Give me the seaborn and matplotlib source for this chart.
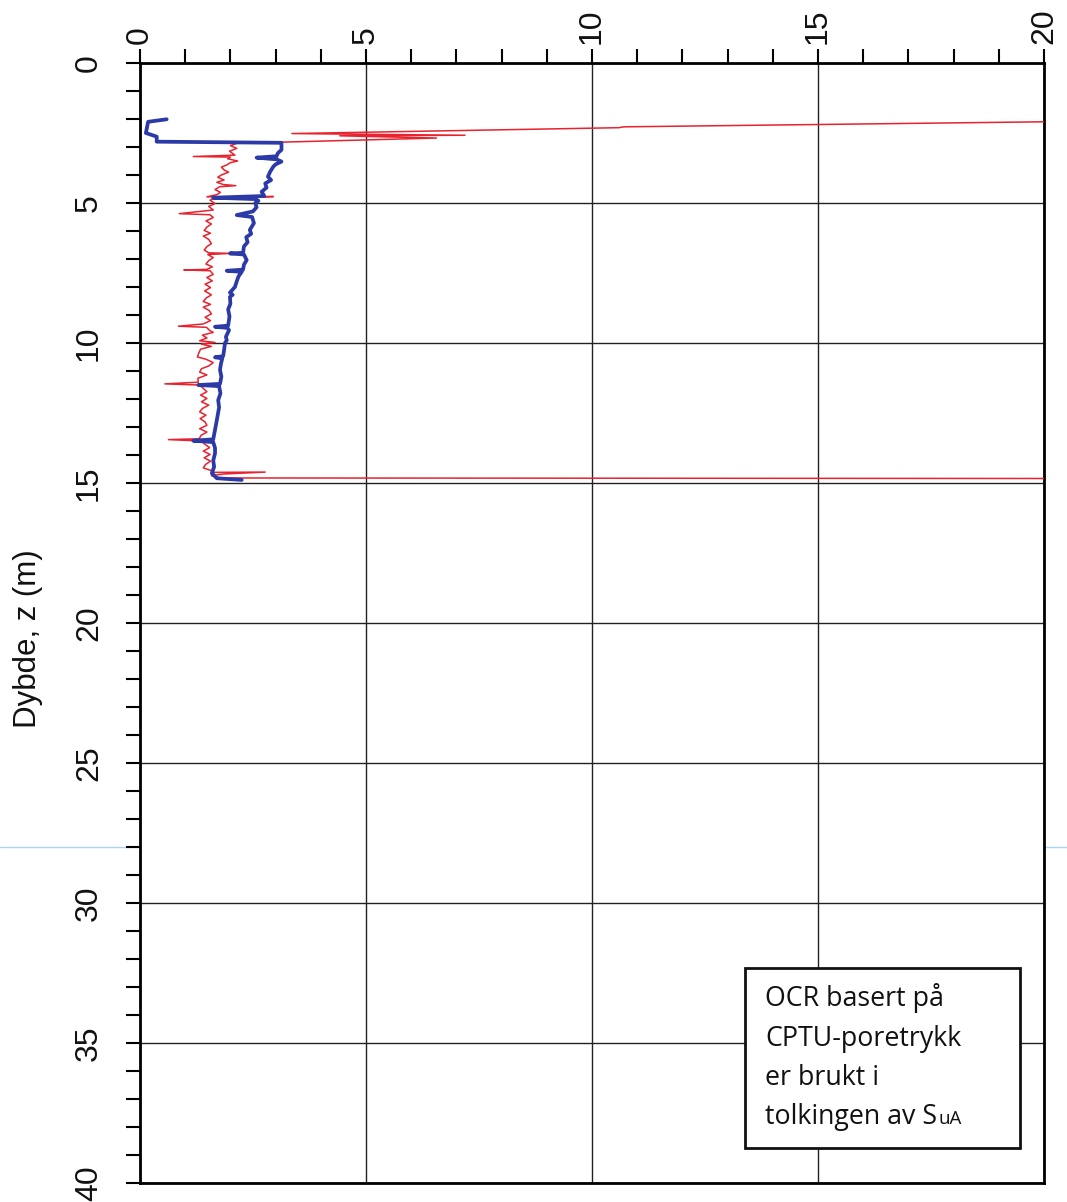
import matplotlib
matplotlib.use("Agg")
import matplotlib.pyplot as plt
from matplotlib.lines import Line2D
from matplotlib.patches import Rectangle
from matplotlib.ticker import MultipleLocator
import seaborn as sns
import pandas as pd

# OCR profile (thick blue) – value, depth (m)
ocr_value = [0.59, 0.18, 0.13, 0.37, 0.37, 3.13, 3.13, 3.05, 3.02, 2.58, 3.02, 3.13,
             3.00, 2.95, 2.88, 2.83, 2.90, 2.77, 2.80, 2.69, 2.75, 1.62, 2.55, 2.62,
             2.55, 2.58, 2.50, 2.14, 2.48, 2.52, 2.43, 2.46, 2.35, 2.38, 2.30, 2.28,
             1.99, 2.30, 2.36, 2.30, 2.28, 1.92, 2.25, 2.18, 2.14, 2.10, 1.99, 2.05,
             1.99, 2.00, 1.95, 1.98, 1.95, 1.66, 1.93, 1.97, 1.90, 1.92, 1.88, 1.86,
             1.84, 1.66, 1.82, 1.79, 1.77, 1.80, 1.77, 1.29, 1.75, 1.78, 1.73, 1.75,
             1.70, 1.66, 1.62, 1.18, 1.62, 1.66, 1.66, 1.62, 1.64, 1.59, 1.70, 2.25]
ocr_depth = [2.01, 2.10, 2.50, 2.63, 2.81, 2.85, 3.10, 3.22, 3.33, 3.38, 3.44, 3.52,
             3.62, 3.70, 3.88, 4.06, 4.18, 4.30, 4.45, 4.60, 4.75, 4.81, 4.86, 4.92,
             5.00, 5.15, 5.30, 5.43, 5.50, 5.72, 5.96, 6.10, 6.22, 6.40, 6.55, 6.78,
             6.80, 6.84, 7.04, 7.20, 7.38, 7.42, 7.46, 7.62, 7.80, 8.00, 8.20, 8.28,
             8.35, 8.60, 8.80, 9.05, 9.38, 9.42, 9.46, 9.54, 9.78, 9.90, 10.00, 10.25,
             10.47, 10.51, 10.55, 10.75, 10.96, 11.20, 11.46, 11.50, 11.54, 11.80, 12.04, 12.30,
             12.75, 13.10, 13.44, 13.49, 13.54, 13.75, 13.94, 14.20, 14.42, 14.65, 14.83, 14.89]

# OCR profile (thin red) – value, depth (m)
red_value = [20.5, 10.7, 10.6, 3.36, 7.19, 4.42, 6.56, 2.14, 2.00, 2.14, 1.98, 2.10,
             1.18, 2.00, 1.94, 2.16, 2.00, 1.92, 1.80, 1.86, 1.96, 1.80, 1.72, 1.86,
             1.70, 1.84, 2.12, 1.76, 1.66, 1.78, 1.70, 1.48, 2.95, 1.66, 1.55, 1.66,
             1.52, 1.62, 0.87, 1.55, 1.62, 1.46, 1.58, 1.48, 1.42, 1.56, 1.40, 1.52,
             1.58, 1.48, 1.42, 1.52, 1.99, 1.50, 1.62, 1.52, 1.46, 1.60, 1.48, 0.97,
             1.55, 1.62, 1.48, 1.60, 1.44, 1.56, 1.43, 1.58, 1.46, 1.40, 1.56, 1.40,
             1.53, 1.58, 1.44, 1.56, 1.40, 0.85, 1.47, 1.54, 1.62, 1.38, 1.48, 1.32,
             1.66, 1.36, 1.58, 1.34, 1.30, 1.27, 1.46, 1.62, 1.52, 1.36, 1.32, 1.48,
             1.28, 1.29, 0.55, 1.31, 1.40, 1.48, 1.34, 1.48, 1.36, 1.52, 1.38, 1.32,
             1.46, 1.33, 1.44, 1.48, 1.32, 1.48, 1.35, 1.31, 0.63, 1.36, 1.44, 1.54,
             1.40, 1.55, 1.42, 1.56, 1.45, 1.40, 1.58, 1.62, 2.77, 1.84, 1.58, 1.77,
             21.0]
red_depth = [2.09, 2.28, 2.31, 2.52, 2.58, 2.60, 2.68, 2.87, 2.95, 3.05, 3.15, 3.29,
             3.34, 3.36, 3.42, 3.50, 3.56, 3.64, 3.72, 3.82, 3.90, 4.00, 4.08, 4.18,
             4.26, 4.34, 4.38, 4.42, 4.52, 4.62, 4.70, 4.78, 4.77, 4.82, 4.90, 5.02,
             5.12, 5.25, 5.38, 5.42, 5.52, 5.64, 5.75, 5.86, 5.98, 6.08, 6.18, 6.30,
             6.45, 6.56, 6.68, 6.78, 6.80, 6.84, 6.95, 7.06, 7.18, 7.28, 7.37, 7.39,
             7.42, 7.55, 7.66, 7.78, 7.90, 8.02, 8.14, 8.28, 8.40, 8.52, 8.62, 8.72,
             8.84, 8.96, 9.08, 9.20, 9.32, 9.40, 9.44, 9.55, 9.62, 9.72, 9.82, 9.92,
             9.98, 10.04, 10.12, 10.22, 10.36, 10.50, 10.58, 10.70, 10.82, 10.92, 11.04, 11.14,
             11.26, 11.40, 11.46, 11.50, 11.62, 11.74, 11.86, 11.98, 12.10, 12.22, 12.34, 12.46,
             12.58, 12.70, 12.82, 12.94, 13.06, 13.18, 13.30, 13.42, 13.45, 13.50, 13.62, 13.74,
             13.86, 13.98, 14.10, 14.22, 14.34, 14.46, 14.56, 14.62, 14.61, 14.68, 14.74, 14.82,
             14.84]

x_ticks = [0, 5, 10, 15, 20]
y_ticks = [0, 5, 10, 15, 20, 25, 30, 35, 40]
y_label = "Dybde, z (m)"
note_lines = ["OCR basert på", "CPTU-poretrykk", "er brukt i", "tolkingen av S"]
note_sub = "uA"

sns.set_theme(style="white")
plt.rcParams["font.family"] = ["Liberation Sans", "DejaVu Sans"]

fig = plt.figure(figsize=(10.67, 12.02), dpi=100)
ax = fig.add_axes([140 / 1067, 1 - 1183 / 1202, 904 / 1067, 1120 / 1202])

red_df = pd.DataFrame({"v": red_value, "z": red_depth})
blue_df = pd.DataFrame({"v": ocr_value, "z": ocr_depth})
sns.lineplot(data=red_df, x="v", y="z", sort=False, estimator=None,
             color="#e8222e", lw=1.1, ax=ax, zorder=3)
sns.lineplot(data=blue_df, x="v", y="z", sort=False, estimator=None,
             color="#2b3aa6", lw=2.7, ax=ax, zorder=4)

ax.set_xlim(0, 20)
ax.set_ylim(40, 0)
ax.set_xlabel("")
ax.set_ylabel("")

ax.xaxis.tick_top()
ax.set_xticks(x_ticks)
ax.set_yticks(y_ticks)
ax.xaxis.set_minor_locator(MultipleLocator(1))
ax.yaxis.set_minor_locator(MultipleLocator(1))
ax.tick_params(axis="both", which="both", direction="out", length=10, width=1.5,
               color="black")
ax.tick_params(axis="x", which="both", top=True, bottom=False, labeltop=True,
               labelbottom=False, pad=4)
ax.tick_params(axis="y", which="both", left=True, right=False, pad=16)
ax.tick_params(labelsize=23, labelcolor="#111111")
for lab in ax.get_xticklabels():
    lab.set_rotation(90)
    lab.set_va("bottom")
    lab.set_ha("center")
for lab in ax.get_yticklabels():
    lab.set_rotation(90)
    lab.set_va("center")
    lab.set_ha("right")

ax.grid(True, which="major", color="#222222", lw=1.0)
for s in ax.spines.values():
    s.set_visible(True)
    s.set_color("black")
    s.set_linewidth(2.0)

fig.text(28 / 1067, 1 - 639 / 1202, y_label, rotation=90, fontsize=22.5,
         ha="center", va="center", color="#111111")

# annotation box
x0, y0, x1, y1 = 745, 968, 1020, 1148
ax.add_patch(Rectangle((x0 / 1067, 1 - y1 / 1202), (x1 - x0) / 1067, (y1 - y0) / 1202,
                       transform=fig.transFigure, facecolor="white", edgecolor="#111111",
                       lw=2.0, zorder=10, clip_on=False))
note_font = ["Open Sans", "DejaVu Sans"]
baselines = [1006, 1046, 1085, 1124]
last = None
for txt, yb in zip(note_lines, baselines):
    last = fig.text(765 / 1067, 1 - yb / 1202, txt, fontsize=19.3, family=note_font,
                    ha="left", va="baseline", color="#111111", zorder=11)
fig.canvas.draw()
bb = last.get_window_extent()
fig.text(bb.x1 / fig.bbox.width + 0.001, 1 - baselines[-1] / 1202, note_sub,
         fontsize=13.5, family=note_font, ha="left", va="baseline", color="#111111",
         zorder=11)

# faint horizontal line running across the sheet
fig.add_artist(Line2D([0, 1], [1 - 847 / 1202, 1 - 847 / 1202], transform=fig.transFigure,
                      color="#a9d6ee", lw=1.0, zorder=0))

fig.savefig("out.png", dpi=100, facecolor="white")
